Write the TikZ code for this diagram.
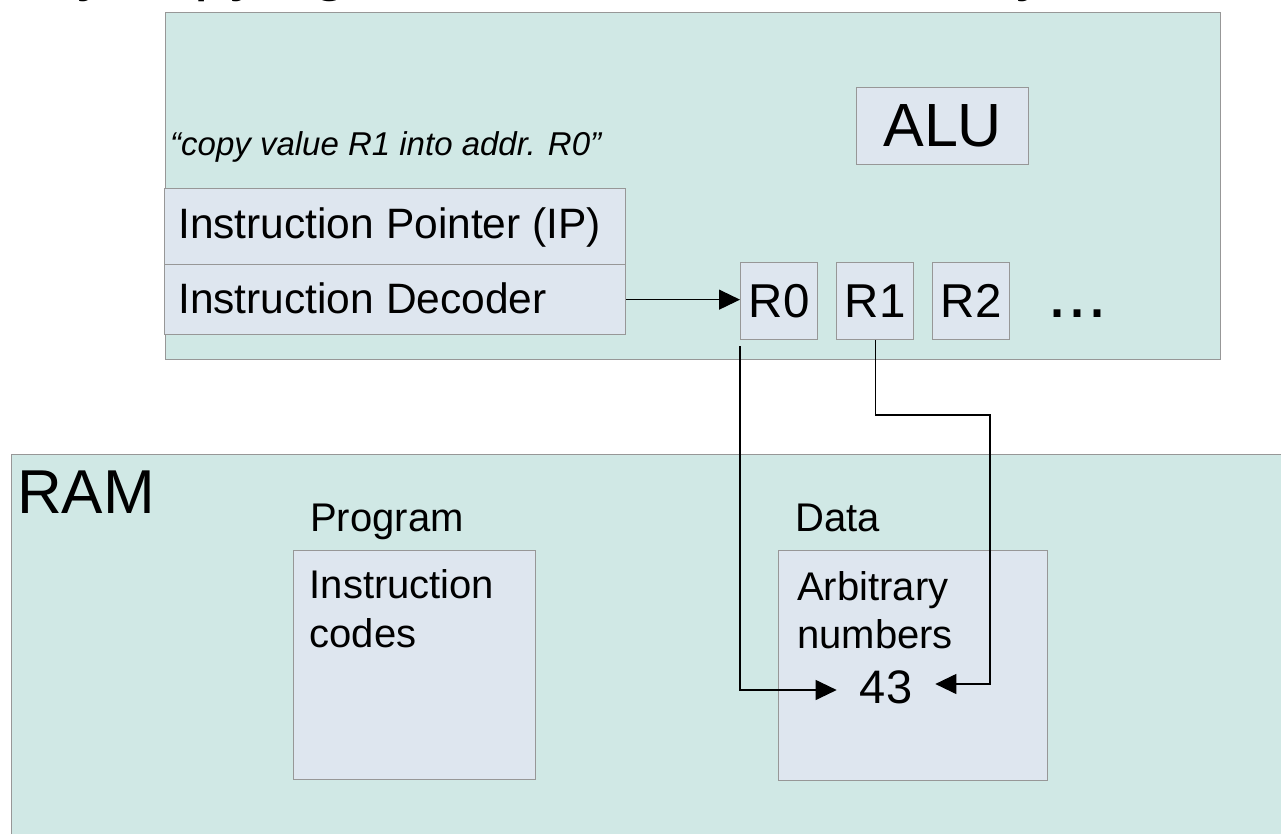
\documentclass[tikz,border=0pt]{standalone}
\usepackage{fontspec}
\setmainfont{Liberation Sans}
\usetikzlibrary{arrows.meta}

\definecolor{panel}{HTML}{D0E8E5}
\definecolor{cell}{HTML}{DEE6EF}
\definecolor{rim}{HTML}{979797}

\newcommand{\sz}[2][]{\fontsize{#2}{#1}\selectfont}

\tikzset{
  panelbox/.style={draw=rim, fill=panel, line width=1.3pt, inner sep=0pt, anchor=north west},
  cellbox/.style={draw=rim, fill=cell, line width=1.3pt, inner sep=0pt, anchor=north west},
  txt/.style={inner sep=0pt, anchor=base west},
  wirehead/.style={line width=1.1pt, -{Triangle[length=21pt,width=20pt]}},
}

\begin{document}
\begin{tikzpicture}[x=1pt,y=-1pt]
\useasboundingbox (0,0) rectangle (1281,834);
\begin{scope}
\clip (0,0) rectangle (1281,834);

% heading (runs above the top edge)
\node[txt] (title) at (34.5,-11) {\sz[70]{64}By copying a value into the memory};

% ---------------- CPU ----------------
\node[panelbox, minimum width=1055pt, minimum height=347pt] (cpu) at (165,12) {};

\node[cellbox, minimum width=172pt, minimum height=77pt] (alu) at (856,87) {\sz[70]{61}ALU};

\node[txt] (quote) at (170,156) {\sz[40]{33}\itshape “copy value R1 into addr. R0”};

\node[cellbox, minimum width=461pt, minimum height=76pt] (ip) at (164,188) {};
\node[txt] (iptxt) at (178,239) {\sz[50]{42.5}Instruction Pointer (IP)};
\node[cellbox, minimum width=461pt, minimum height=70pt] (dec) at (164,264) {};
\node[txt] (dectxt) at (178,313) {\sz[50]{42.5}Instruction Decoder};

\node[cellbox, minimum width=77pt, minimum height=77pt] (r0) at (740,262) {\sz[55]{47.5}R0};
\node[cellbox, minimum width=77pt, minimum height=77pt] (r1) at (836,262) {\sz[55]{47.5}R1};
\node[cellbox, minimum width=77pt, minimum height=77pt] (r2) at (932,262) {\sz[55]{47.5}R2};
\node[txt] (more) at (1047,317) {\sz[80]{72}...};

% ---------------- RAM ----------------
\node[panelbox, minimum width=1300pt, minimum height=420pt] (ram) at (11,454) {};
\node[txt] (ramtxt) at (17,513) {\sz[72]{62}RAM};

\node[txt] (proglbl) at (310,531) {\sz[47]{40}Program};
\node[cellbox, minimum width=242pt, minimum height=229pt] (prog) at (293,550) {};
\node[txt, text width=220pt, align=left, font={\fontsize{40}{49}\selectfont}] (progtxt) at (309.5,598) {Instruction\\codes};

\node[txt] (datalbl) at (795,531) {\sz[47]{40}Data};
\node[cellbox, minimum width=269pt, minimum height=230pt] (data) at (778,550) {};
\node[txt, text width=240pt, align=left, font={\fontsize{40}{48}\selectfont}] (datatxt) at (797,600) {Arbitrary\\numbers};
\node[inner xsep=23pt, inner ysep=0pt] (val) at (886,687) {\sz[55]{47}43};

% ---------------- connectors ----------------
\coordinate (bend) at (990,415);
\draw[wirehead] (dec.east) -- (dec.east -| r0.west);
\draw[wirehead] ([yshift=-6pt]r0.south west) |- ([yshift=-3pt]val.west);
\draw[wirehead] (r1.south) |- (bend) |- ([yshift=3pt]val.east);

\end{scope}
\end{tikzpicture}
\end{document}
